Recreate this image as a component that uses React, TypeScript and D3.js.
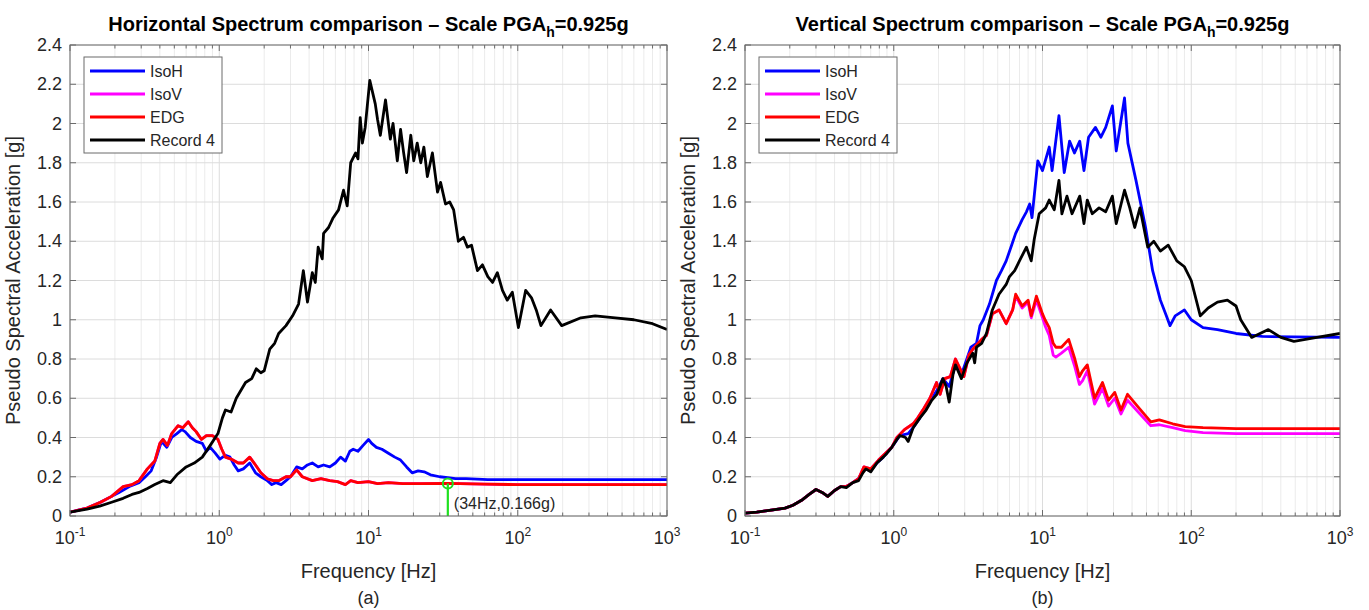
import React from 'react';
import * as d3 from 'd3';

const FONT = "'Liberation Sans', Arial, Helvetica, sans-serif";
type Pt = [number, number];

// ---------- Panel (a): Horizontal spectrum ----------
const hIsoH: Pt[] = [[0.1,0.02],[0.13,0.04],[0.16,0.07],[0.19,0.10],[0.213,0.12],[0.25,0.15],[0.29,0.17],[0.32,0.20],[0.35,0.23],[0.38,0.30],[0.41,0.38],[0.445,0.35],[0.48,0.40],[0.52,0.42],[0.56,0.44],[0.59,0.43],[0.64,0.40],[0.7,0.38],[0.77,0.37],[0.82,0.33],[0.87,0.35],[0.94,0.32],[1.01,0.29],[1.1,0.31],[1.18,0.30],[1.26,0.26],[1.34,0.23],[1.45,0.24],[1.6,0.27],[1.75,0.22],[1.9,0.20],[2.1,0.18],[2.25,0.16],[2.4,0.17],[2.6,0.16],[2.8,0.18],[3.0,0.20],[3.3,0.25],[3.6,0.24],[3.9,0.26],[4.2,0.27],[4.6,0.25],[5.0,0.26],[5.5,0.25],[6.0,0.27],[6.5,0.30],[7.0,0.28],[7.5,0.33],[7.9,0.34],[8.5,0.33],[9.2,0.36],[10.0,0.39],[10.5,0.37],[11.3,0.35],[12.3,0.34],[13.6,0.32],[15,0.30],[16.4,0.285],[18,0.25],[19.6,0.22],[21.5,0.23],[23.6,0.225],[26,0.21],[30,0.20],[34,0.195],[38.3,0.19],[45,0.19],[63,0.185],[100,0.185],[1000,0.185]];
const hEDG: Pt[] = [[0.1,0.02],[0.13,0.04],[0.16,0.07],[0.19,0.10],[0.227,0.15],[0.26,0.16],[0.29,0.18],[0.33,0.24],[0.37,0.28],[0.4,0.37],[0.42,0.39],[0.45,0.36],[0.48,0.42],[0.53,0.46],[0.57,0.45],[0.62,0.48],[0.66,0.45],[0.7,0.43],[0.76,0.39],[0.82,0.41],[0.9,0.41],[0.98,0.39],[1.04,0.34],[1.1,0.30],[1.2,0.29],[1.34,0.27],[1.45,0.27],[1.6,0.30],[1.75,0.26],[1.9,0.22],[2.1,0.19],[2.3,0.18],[2.5,0.18],[2.8,0.20],[3.0,0.20],[3.3,0.235],[3.6,0.20],[4.2,0.18],[4.8,0.19],[5.5,0.18],[6.2,0.175],[7.0,0.16],[7.6,0.18],[8.5,0.17],[10,0.175],[11.5,0.165],[13.6,0.17],[17,0.165],[22,0.165],[34,0.166],[60,0.162],[100,0.16],[1000,0.16]];
const hIsoV: Pt[] = hEDG;
const hRecord4: Pt[] = [[0.1,0.02],[0.13,0.035],[0.158,0.05],[0.19,0.07],[0.227,0.09],[0.26,0.11],[0.29,0.12],[0.33,0.14],[0.37,0.16],[0.42,0.18],[0.47,0.17],[0.52,0.21],[0.6,0.25],[0.68,0.27],[0.77,0.30],[0.87,0.36],[0.98,0.42],[1.05,0.50],[1.1,0.54],[1.2,0.53],[1.3,0.60],[1.5,0.68],[1.65,0.70],[1.77,0.75],[1.9,0.73],[2.0,0.74],[2.18,0.85],[2.35,0.88],[2.5,0.93],[2.8,0.97],[3.1,1.02],[3.4,1.08],[3.66,1.25],[3.9,1.09],[4.2,1.24],[4.4,1.19],[4.6,1.37],[4.9,1.31],[5.0,1.44],[5.4,1.47],[5.8,1.52],[6.3,1.56],[6.8,1.66],[7.2,1.58],[7.6,1.80],[8.2,1.85],[8.5,1.82],[8.8,2.03],[9.1,1.90],[9.5,1.98],[10.2,2.22],[11.1,2.10],[11.5,2.02],[12.0,1.94],[13.0,2.12],[14.0,1.92],[14.6,2.0],[15.6,1.81],[16.4,1.97],[17.2,1.85],[18.0,1.75],[19.2,1.94],[20.1,1.81],[21.2,1.90],[22.4,1.80],[23.5,1.88],[24.8,1.73],[26.8,1.85],[29.0,1.65],[30.4,1.70],[32.8,1.59],[35,1.6],[37.2,1.56],[40.0,1.40],[43.3,1.42],[46,1.37],[49.0,1.38],[53.7,1.25],[58,1.28],[63,1.22],[67.8,1.19],[73.0,1.24],[79,1.15],[85,1.10],[92,1.14],[101,0.96],[113,1.15],[124,1.11],[133,1.05],[143,0.97],[166,1.05],[197,0.97],[265,1.01],[330,1.02],[450,1.01],[600,1.00],[800,0.98],[1000,0.95]];

// ---------- Panel (b): Vertical spectrum ----------
const vIsoH: Pt[] = [[0.1,0.015],[0.12,0.02],[0.15,0.03],[0.186,0.04],[0.21,0.055],[0.24,0.08],[0.27,0.11],[0.30,0.135],[0.33,0.12],[0.36,0.10],[0.40,0.13],[0.44,0.15],[0.48,0.15],[0.53,0.17],[0.58,0.19],[0.62,0.23],[0.65,0.24],[0.70,0.23],[0.77,0.27],[0.85,0.30],[0.97,0.35],[1.1,0.41],[1.25,0.42],[1.35,0.45],[1.5,0.50],[1.65,0.55],[1.8,0.60],[1.95,0.64],[2.14,0.70],[2.36,0.66],[2.6,0.77],[2.85,0.72],[3.1,0.80],[3.3,0.86],[3.6,0.88],[3.8,0.97],[4.0,1.0],[4.4,1.08],[4.9,1.20],[5.3,1.25],[5.7,1.30],[6.2,1.38],[6.6,1.44],[7.3,1.51],[7.8,1.55],[8.2,1.59],[8.5,1.52],[9.3,1.81],[10.0,1.76],[11.1,1.88],[11.6,1.76],[12.9,2.04],[14.0,1.75],[15.2,1.91],[16.4,1.85],[17.8,1.91],[19.0,1.76],[20.4,1.93],[22.7,1.98],[24.7,1.93],[26.6,1.98],[29.5,2.09],[31.3,1.86],[35.6,2.13],[37.5,1.90],[42.5,1.71],[49.3,1.47],[55,1.25],[62,1.10],[68,1.02],[72,0.97],[78,1.02],[90,1.05],[100,1.00],[120,0.96],[150,0.95],[200,0.93],[300,0.915],[1000,0.91]];
const vEDG: Pt[] = [[0.1,0.015],[0.12,0.02],[0.15,0.03],[0.186,0.04],[0.21,0.055],[0.24,0.08],[0.27,0.11],[0.30,0.135],[0.33,0.12],[0.36,0.10],[0.40,0.13],[0.44,0.15],[0.48,0.15],[0.53,0.17],[0.58,0.19],[0.63,0.25],[0.7,0.24],[0.79,0.285],[0.88,0.32],[0.97,0.35],[1.05,0.40],[1.18,0.44],[1.35,0.47],[1.45,0.50],[1.6,0.55],[1.75,0.60],[1.94,0.68],[2.05,0.62],[2.2,0.70],[2.4,0.71],[2.6,0.80],[2.96,0.71],[3.2,0.82],[3.4,0.85],[3.9,0.90],[4.2,0.92],[4.6,1.03],[5.1,1.05],[5.7,0.98],[6.3,1.05],[6.6,1.13],[7.3,1.07],[8.0,1.10],[8.4,1.02],[9.1,1.12],[10.0,1.03],[10.4,1.00],[11.1,0.96],[11.8,0.88],[12.3,0.86],[13.4,0.86],[15.0,0.90],[16.5,0.80],[17.7,0.71],[18.6,0.74],[20.0,0.77],[22.4,0.60],[25.3,0.68],[27.8,0.59],[30.6,0.63],[33.7,0.54],[37.3,0.62],[44,0.555],[53.5,0.48],[61,0.49],[75,0.47],[91,0.455],[120,0.45],[200,0.445],[1000,0.445]];
const vIsoV: Pt[] = [[0.1,0.015],[0.12,0.02],[0.15,0.03],[0.186,0.04],[0.21,0.055],[0.24,0.08],[0.27,0.11],[0.30,0.135],[0.33,0.12],[0.36,0.10],[0.40,0.13],[0.44,0.15],[0.48,0.15],[0.53,0.17],[0.58,0.19],[0.63,0.25],[0.7,0.24],[0.79,0.285],[0.88,0.32],[0.97,0.35],[1.05,0.40],[1.18,0.44],[1.35,0.47],[1.45,0.50],[1.6,0.55],[1.75,0.60],[1.94,0.68],[2.05,0.62],[2.2,0.70],[2.4,0.71],[2.6,0.80],[2.96,0.71],[3.2,0.82],[3.4,0.85],[3.9,0.90],[4.2,0.92],[4.6,1.03],[5.1,1.05],[5.7,0.98],[6.3,1.05],[6.6,1.12],[7.3,1.06],[8.0,1.09],[8.4,1.01],[9.1,1.10],[10.0,1.01],[10.4,0.97],[11.1,0.92],[11.8,0.82],[12.3,0.81],[13.4,0.83],[15.0,0.86],[16.5,0.76],[17.7,0.67],[18.6,0.69],[20.0,0.74],[22.4,0.57],[25.3,0.65],[27.8,0.56],[30.6,0.60],[33.7,0.52],[37.3,0.59],[44,0.53],[53.5,0.46],[61,0.465],[75,0.45],[91,0.435],[120,0.425],[200,0.42],[1000,0.42]];
const vRecord4: Pt[] = [[0.1,0.015],[0.12,0.02],[0.15,0.03],[0.186,0.04],[0.21,0.055],[0.24,0.08],[0.27,0.11],[0.30,0.135],[0.33,0.12],[0.36,0.10],[0.40,0.13],[0.44,0.15],[0.48,0.145],[0.53,0.17],[0.58,0.18],[0.62,0.22],[0.65,0.24],[0.70,0.225],[0.77,0.27],[0.85,0.30],[0.9,0.32],[0.97,0.35],[1.05,0.39],[1.1,0.41],[1.2,0.40],[1.25,0.38],[1.35,0.45],[1.5,0.50],[1.65,0.54],[1.8,0.59],[1.95,0.62],[2.14,0.70],[2.25,0.66],[2.36,0.58],[2.5,0.72],[2.6,0.77],[2.85,0.70],[3.1,0.78],[3.4,0.83],[3.5,0.78],[3.6,0.86],[3.9,0.88],[4.2,0.93],[4.6,1.05],[5.1,1.13],[5.7,1.18],[6.0,1.22],[6.5,1.25],[7.0,1.30],[7.8,1.37],[8.4,1.30],[8.8,1.41],[9.5,1.54],[10.5,1.57],[11.1,1.61],[12.0,1.56],[12.9,1.71],[13.5,1.54],[14.6,1.63],[15.8,1.54],[17.8,1.63],[19.0,1.49],[20.0,1.61],[21.6,1.54],[24.0,1.57],[26.6,1.55],[29.5,1.63],[31.3,1.49],[35.6,1.66],[38.6,1.57],[41.7,1.47],[45.2,1.57],[51,1.37],[56,1.40],[62,1.35],[70,1.38],[80,1.30],[90,1.27],[100,1.20],[115,1.02],[130,1.06],[150,1.09],[175,1.10],[200,1.07],[215,1.00],[255,0.91],[290,0.93],[330,0.95],[400,0.91],[490,0.89],[700,0.91],[1000,0.93]];

const seriesNames = ['IsoH', 'IsoV', 'EDG', 'Record 4'];
const seriesColors = ['#0000ff', '#ff00ff', '#ff0000', '#000000'];
const xMajorTicks = [0.1, 1, 10, 100, 1000];
const xTickExponents = ['-1', '0', '1', '2', '3'];
const yTickValues = [0, 0.2, 0.4, 0.6, 0.8, 1, 1.2, 1.4, 1.6, 1.8, 2, 2.2, 2.4];
const yTickLabels = ['0', '0.2', '0.4', '0.6', '0.8', '1', '1.2', '1.4', '1.6', '1.8', '2', '2.2', '2.4'];
const annotFreq = 34;
const annotValue = 0.166;
const annotLabel = '(34Hz,0.166g)';

const TXT = '#262626';

function Panel(props: {
  id: string; left: number; right: number; top: number; bottom: number;
  titleMain: string; caption: string; data: Pt[][]; annotate?: boolean;
}) {
  const { id, left, right, top, bottom, titleMain, caption, data, annotate } = props;
  const x = d3.scaleLog().domain([0.1, 1000]).range([left, right]);
  const y = d3.scaleLinear().domain([0, 2.4]).range([bottom, top]);
  const line = d3.line<Pt>().x(d => x(d[0])).y(d => y(d[1]));
  const allTicks = x.ticks();
  const minor = allTicks.filter(t => !xMajorTicks.some(m => Math.abs(m - t) / m < 1e-6));
  const cx = (left + right) / 2;
  const lg = { x: left + 14, y: 57, w: 138, h: 96 };
  return (
    <g fontFamily={FONT}>
      <defs>
        <clipPath id={'clip-' + id}>
          <rect x={left} y={top} width={right - left} height={bottom - top} />
        </clipPath>
      </defs>
      <rect x={left} y={top} width={right - left} height={bottom - top} fill="#fff" />
      {minor.map((t, i) => (
        <line key={'mg' + i} x1={x(t)} x2={x(t)} y1={top} y2={bottom} stroke="#ebebeb" strokeWidth={1} />
      ))}
      {xMajorTicks.map((t, i) => (
        <line key={'Mg' + i} x1={x(t)} x2={x(t)} y1={top} y2={bottom} stroke="#dcdcdc" strokeWidth={1} />
      ))}
      {yTickValues.map((t, i) => (
        <line key={'yg' + i} x1={left} x2={right} y1={y(t)} y2={y(t)} stroke="#dcdcdc" strokeWidth={1} />
      ))}
      <g clipPath={`url(#clip-${id})`}>
        {data.map((d, i) => (
          <path key={'s' + i} d={line(d) || ''} fill="none" stroke={seriesColors[i]} strokeWidth={2.8} strokeLinejoin="round" />
        ))}
      </g>
      {annotate && (
        <g>
          <line x1={x(annotFreq)} x2={x(annotFreq)} y1={y(annotValue)} y2={y(0)} stroke="#1fe01f" strokeWidth={2.2} />
          <circle cx={x(annotFreq)} cy={y(annotValue)} r={5} fill="none" stroke="#1fe01f" strokeWidth={2} />
          <text x={x(annotFreq) + 6} y={y(annotValue) + 26} fontSize={16} fill={TXT}>{annotLabel}</text>
        </g>
      )}
      {/* frame */}
      <rect x={left} y={top} width={right - left} height={bottom - top} fill="none" stroke="#6b6b6b" strokeWidth={1} />
      {/* ticks */}
      {allTicks.map((t, i) => {
        const major = xMajorTicks.some(m => Math.abs(m - t) / m < 1e-6);
        const L = major ? 6 : 3.5;
        return (
          <g key={'xt' + i}>
            <line x1={x(t)} x2={x(t)} y1={bottom} y2={bottom - L} stroke="#6b6b6b" />
            <line x1={x(t)} x2={x(t)} y1={top} y2={top + L} stroke="#6b6b6b" />
          </g>
        );
      })}
      {yTickValues.map((t, i) => (
        <g key={'yt' + i}>
          <line x1={left} x2={left + 6} y1={y(t)} y2={y(t)} stroke="#6b6b6b" />
          <line x1={right} x2={right - 6} y1={y(t)} y2={y(t)} stroke="#6b6b6b" />
          <text x={left - 8} y={y(t) + 6} textAnchor="end" fontSize={18} fill={TXT}>{yTickLabels[i]}</text>
        </g>
      ))}
      {xMajorTicks.map((t, i) => (
        <text key={'xl' + i} x={x(t)} y={bottom + 28} textAnchor="middle" fontSize={18} fill={TXT}>
          10<tspan dy={-8} fontSize={12}>{xTickExponents[i]}</tspan>
        </text>
      ))}
      {/* legend */}
      <rect x={lg.x} y={lg.y} width={lg.w} height={lg.h} fill="#fff" stroke="#6b6b6b" strokeWidth={1} />
      {seriesNames.map((n, i) => (
        <g key={'lg' + i}>
          <line x1={lg.x + 6} x2={lg.x + 61} y1={lg.y + 14 + i * 23} y2={lg.y + 14 + i * 23} stroke={seriesColors[i]} strokeWidth={2.8} />
          <text x={lg.x + 66} y={lg.y + 14 + i * 23 + 5.5} fontSize={16} fill={TXT}>{n}</text>
        </g>
      ))}
      {/* labels */}
      <text x={cx} y={31} textAnchor="middle" fontSize={20} fontWeight="bold" fill="#000">
        {titleMain}<tspan dy={6} fontSize={14}>h</tspan><tspan dy={-6}>=0.925g</tspan>
      </text>
      <text x={cx} y={bottom + 62} textAnchor="middle" fontSize={20} fill={TXT}>Frequency [Hz]</text>
      <text x={cx} y={bottom + 88} textAnchor="middle" fontSize={18} fill={TXT}>{caption}</text>
      <text transform={`translate(${left - 50},${(top + bottom) / 2}) rotate(-90)`} textAnchor="middle" fontSize={20} fill={TXT}>
        Pseudo Spectral Acceleration [g]
      </text>
    </g>
  );
}

export default function App() {
  return (
    <svg width={1369} height={610} style={{ position: 'absolute', left: 0, top: 0, background: '#fff' }}>
      <rect x={0} y={0} width={1369} height={610} fill="#fff" />
      <Panel id="a" left={70} right={667} top={45} bottom={516}
        titleMain="Horizontal Spectrum comparison – Scale PGA" caption="(a)"
        data={[hIsoH, hIsoV, hEDG, hRecord4]} annotate />
      <Panel id="b" left={745} right={1340} top={45} bottom={516}
        titleMain="Vertical Spectrum comparison – Scale PGA" caption="(b)"
        data={[vIsoH, vIsoV, vEDG, vRecord4]} />
    </svg>
  );
}
